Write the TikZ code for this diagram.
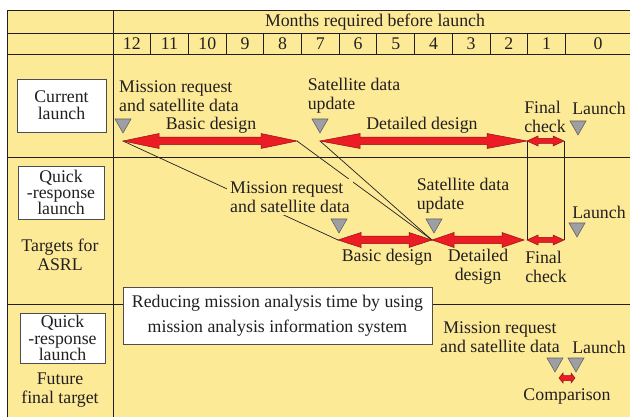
\documentclass[tikz,border=0pt]{standalone}
\usepackage{fontspec}
\setmainfont{Liberation Serif}
\usetikzlibrary{calc}
\definecolor{asyellow}{HTML}{FCEA97}
\definecolor{asred}{HTML}{EC1C24}
\definecolor{asgray}{HTML}{9D9FA2}
\definecolor{asink}{HTML}{231F20}
\newcommand{\lblfont}{\fontsize{17.8}{19}\selectfont}
% double-headed red bar between two points: #3 head length, #4 head half-width
\newcommand{\spanarrow}[4]{%
  \filldraw[redbar] (#1) -- ($(#1)+(#3,#4)$) -- ($(#1)+(#3,#4/2)$)
    -- ($(#2)+(-#3,#4/2)$) -- ($(#2)+(-#3,#4)$) -- (#2)
    -- ($(#2)+(-#3,-#4)$) -- ($(#2)+(-#3,-#4/2)$)
    -- ($(#1)+(#3,-#4/2)$) -- ($(#1)+(#3,-#4)$) -- cycle;}

\begin{document}
\begin{tikzpicture}[x=1pt, y=-1pt,
  every node/.style={font=\lblfont, text=asink, inner sep=0pt},
  gridline/.style={asink, line width=0.9pt},
  tieline/.style={asink, line width=0.7pt},
  redbar/.style={fill=asred, draw=asred!60!black, line width=0.5pt},
  namebox/.style={draw=asink!80, fill=white, line width=0.8pt, align=center,
    font=\fontsize{17.8}{16.3}\selectfont},
  marker/.pic={\filldraw[asgray, draw=asink!70, line width=0.6pt]
    (0,0) -- (-8,-14) -- (8,-14) -- cycle;}]

  % ---- Background and table frame ----
  \useasboundingbox (0,0) rectangle (630,417);
  \fill[asyellow] (7,10) rectangle (630,417);
  \draw[gridline] (630,10) -- (7,10) -- (7,417);
  \draw[gridline] (113,10) -- (113,417);
  \foreach \ry in {33,54,157,304}
    \draw[gridline] (7,\ry) -- (630,\ry);
  \foreach \k in {1,...,12}
    \draw[gridline] ({113+\k*37.7},33) -- ({113+\k*37.7},54);

  % ---- Header ----
  \node (head) at (375,22) {Months required before launch};
  \foreach \m [count=\k from 0] in {12,11,...,1}
    \node (mon\m) at ({113+(\k+0.5)*37.7},44) {\m};
  \node (mon0) at (598,44) {0};

  % ---- Event points ----
  \coordinate (curMRp) at (123,141);
  \coordinate (curBDe) at (297,141);
  \coordinate (curSUp) at (320,141);
  \coordinate (curFCa) at (527,141);
  \coordinate (curFCb) at (564,141);
  \coordinate (qrMRp)  at (338,240);
  \coordinate (qrSUp)  at (432,240);
  \coordinate (qrDDe)  at (524,240);
  \coordinate (qrFCa)  at (527,240);
  \coordinate (qrFCb)  at (564,240);
  \coordinate (ftCa)   at (559,378);
  \coordinate (ftCb)   at (575,378);

  % ---- Tie lines between current and quick-response ----
  \draw[tieline] (curMRp) -- (qrMRp);
  \draw[tieline] (curBDe) -- (qrSUp);
  \draw[tieline] (curSUp) -- (qrSUp);
  \draw[tieline] (curFCa) -- (qrFCa);
  \draw[tieline] (curFCb) -- (qrFCb);

  % ---- Red spans ----
  \spanarrow{curMRp}{curBDe}{36}{7.5}
  \spanarrow{curSUp}{curFCa}{40}{7.5}
  \spanarrow{curFCa}{curFCb}{11}{5}
  \spanarrow{qrMRp}{qrSUp}{23}{7.5}
  \spanarrow{qrSUp}{qrDDe}{22}{7.5}
  \spanarrow{qrFCa}{qrFCb}{11}{5}
  \spanarrow{ftCa}{ftCb}{4}{5}

  % ---- Markers ----
  \foreach \mx/\my in {123/133, 320/133, 578/135, 339/233, 434/233,
                       577/237, 555/372, 576/372}
    \pic at (\mx,\my) {marker};

  % ---- Current launch ----
  \node[namebox, minimum width=89pt, minimum height=53pt,
    font=\fontsize{17.8}{17}\selectfont] (curBox) at (61.5,105.5) {Current\\launch};
  \node[align=left] (curMR) at (179,96) {Mission request\\and satellite data};
  \node[align=left] (curSU) at (354,96) {Satellite data\\update};
  \node (curBD) at (211,125) {Basic design};
  \node (curDD) at (422,125) {Detailed design};
  \node[align=left] (curFC) at (545,117) {Final\\check};
  \node (curL) at (599,108) {Launch};

  % ---- Quick-response launch ----
  \node[namebox, minimum width=86pt, minimum height=53pt] (qrBox) at (61,192.5)
    {Quick\\-response\\launch};
  \node[align=center] (qrTarget) at (60,254.5) {Targets for\\ASRL};
  \node[align=left, fill=asyellow, inner sep=3pt] (qrMR) at (290,197)
    {Mission request\\and satellite data};
  \node[align=left] (qrSU) at (463,196) {Satellite data\\update};
  \node (qrBD) at (387,257) {Basic design};
  \node[align=center] (qrDD) at (478,267) {Detailed\\design};
  \node[align=left] (qrFC) at (546,267) {Final\\check};
  \node (qrL) at (599,212) {Launch};

  % ---- Future final target ----
  \node[namebox, minimum width=85pt, minimum height=50pt] (ftBox) at (62.5,338)
    {Quick\\-response\\launch};
  \node[align=center] (ftTarget) at (60,390) {Future\\final target};
  \node[namebox, minimum width=309pt, minimum height=57pt,
    font=\fontsize{17.8}{25}\selectfont] (misBox) at (277.5,315.5)
    {Reducing mission analysis time by using\\mission analysis information system};
  \node[align=center] (ftMR) at (500,337.5) {Mission request\\and satellite data};
  \node (ftL) at (599,347) {Launch};
  \node (ftCmp) at (567,397) {Comparison};

\end{tikzpicture}
\end{document}
